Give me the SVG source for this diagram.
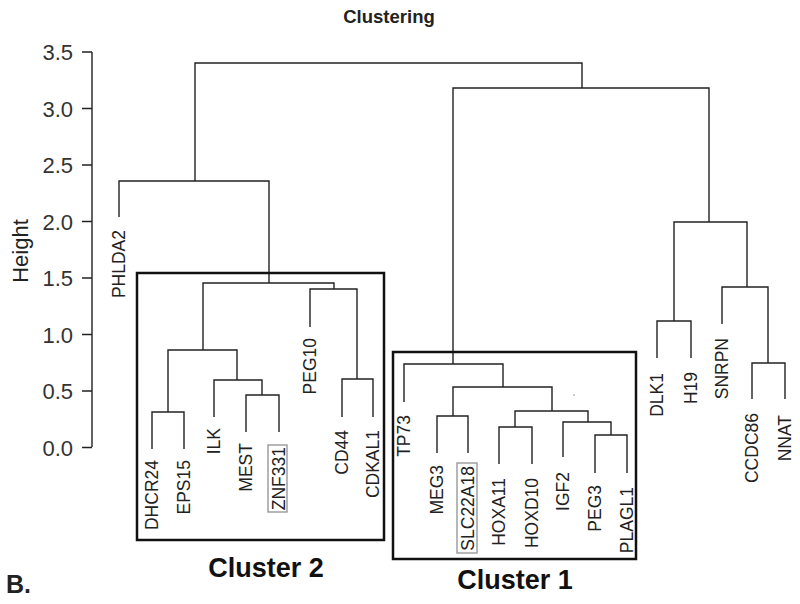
<svg xmlns="http://www.w3.org/2000/svg" width="800" height="604" viewBox="0 0 800 604">
<style>
text{font-family:"Liberation Sans",Arial,sans-serif;fill:#222}
.lbl{font-size:17.5px;text-anchor:end}
.ax{font-size:22px;text-anchor:end;fill:#333}
.br{fill:none;stroke:#222;stroke-width:1.4}
.box{fill:none;stroke:#111;stroke-width:2.5}
.hl{fill:none;stroke:#999;stroke-width:1.4}
.big{font-weight:bold;font-size:27px;text-anchor:middle;fill:#111}
</style>
<rect width="800" height="604" fill="#fff"/>
<text x="389" y="23" font-weight="bold" font-size="18.5" text-anchor="middle" fill="#111">Clustering</text>
<g id="axis">
<path class="br" d="M92 52V447M82 52H92M82 108.5H92M82 165H92M82 221.5H92M82 278H92M82 334.5H92M82 391H92M82 447.5H92"/>
<text class="ax" x="73" y="60">3.5</text>
<text class="ax" x="73" y="116.5">3.0</text>
<text class="ax" x="73" y="173">2.5</text>
<text class="ax" x="73" y="229.5">2.0</text>
<text class="ax" x="73" y="286">1.5</text>
<text class="ax" x="73" y="342.5">1.0</text>
<text class="ax" x="73" y="399">0.5</text>
<text class="ax" x="73" y="455.5">0.0</text>
<text x="0" y="0" font-size="22" text-anchor="middle" fill="#333" transform="translate(28,251) rotate(-90)">Height</text>
</g>
<g id="connectors">
<path class="br" d="M195 181V63H582V88"/>
<path class="br" d="M119 217V181H269V283"/>
<path class="br" d="M203 350V283H334V289"/>
<path class="br" d="M310 327V289H357V379"/>
<path class="br" d="M342 417V379H373V417"/>
<path class="br" d="M168 412V350H237V380"/>
<path class="br" d="M152 449V412H184V449"/>
<path class="br" d="M214 417V380H262V395"/>
<path class="br" d="M246 432V395H279V432"/>
<path class="br" d="M453 364V88H709V222"/>
<path class="br" d="M404 402V364H503V387"/>
<path class="br" d="M453 416V387H552V411"/>
<path class="br" d="M437 453V416H468V453"/>
<path class="br" d="M515 427V411H588V422"/>
<path class="br" d="M499 464V427H532V464"/>
<path class="br" d="M563 457V422H611V435"/>
<path class="br" d="M595 473V435H627V473"/>
<path class="br" d="M674 321V222H747V287"/>
<path class="br" d="M657 358V321H691V358"/>
<path class="br" d="M722 324V287H768V363"/>
<path class="br" d="M752 399V363H785V399"/>
</g>
<g id="cluster2">
<rect class="box" x="137" y="273" width="247" height="267"/>
<text class="big" x="266" y="577">Cluster 2</text>
</g>
<g id="cluster1">
<rect class="box" x="393" y="352" width="243" height="207"/>
<text class="big" x="515" y="589">Cluster 1</text>
</g>
<g id="leaf-PHLDA2"><text class="lbl" transform="translate(125,230) rotate(-90)">PHLDA2</text></g>
<g id="leaf-DHCR24"><text class="lbl" transform="translate(158,460) rotate(-90)">DHCR24</text></g>
<g id="leaf-EPS15"><text class="lbl" transform="translate(190,460) rotate(-90)">EPS15</text></g>
<g id="leaf-ILK"><text class="lbl" transform="translate(220,428) rotate(-90)">ILK</text></g>
<g id="leaf-MEST"><text class="lbl" transform="translate(252,443) rotate(-90)">MEST</text></g>
<g id="leaf-ZNF331"><rect class="hl" x="268" y="445" width="19" height="67"/><text class="lbl" transform="translate(285,447) rotate(-90)">ZNF331</text></g>
<g id="leaf-PEG10"><text class="lbl" transform="translate(316,338) rotate(-90)">PEG10</text></g>
<g id="leaf-CD44"><text class="lbl" transform="translate(348,430) rotate(-90)">CD44</text></g>
<g id="leaf-CDKAL1"><text class="lbl" transform="translate(379,430) rotate(-90)">CDKAL1</text></g>
<g id="leaf-TP73"><text class="lbl" transform="translate(410,415) rotate(-90)">TP73</text></g>
<g id="leaf-MEG3"><text class="lbl" transform="translate(443,465) rotate(-90)">MEG3</text></g>
<g id="leaf-SLC22A18"><rect class="hl" x="457" y="463" width="20" height="90"/><text class="lbl" transform="translate(474,466) rotate(-90)">SLC22A18</text></g>
<g id="leaf-HOXA11"><text class="lbl" transform="translate(505,478) rotate(-90)">HOXA11</text></g>
<g id="leaf-HOXD10"><text class="lbl" transform="translate(538,478) rotate(-90)">HOXD10</text></g>
<g id="leaf-IGF2"><text class="lbl" transform="translate(569,472) rotate(-90)">IGF2</text></g>
<g id="leaf-PEG3"><text class="lbl" transform="translate(601,485) rotate(-90)">PEG3</text></g>
<g id="leaf-PLAGL1"><text class="lbl" transform="translate(633,487) rotate(-90)">PLAGL1</text></g>
<g id="leaf-DLK1"><text class="lbl" transform="translate(663,373) rotate(-90)">DLK1</text></g>
<g id="leaf-H19"><text class="lbl" transform="translate(697,372) rotate(-90)">H19</text></g>
<g id="leaf-SNRPN"><text class="lbl" transform="translate(728,338) rotate(-90)">SNRPN</text></g>
<g id="leaf-CCDC86"><text class="lbl" transform="translate(758,413) rotate(-90)">CCDC86</text></g>
<g id="leaf-NNAT"><text class="lbl" transform="translate(791,415) rotate(-90)">NNAT</text></g>
<circle cx="574" cy="395" r="0.8" fill="#888"/>
<text x="6" y="593" font-weight="bold" font-size="25" fill="#111">B.</text>
</svg>
